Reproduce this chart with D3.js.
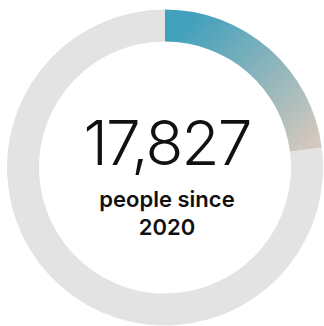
<!DOCTYPE html>
<html><head><meta charset="utf-8">
<script src="https://cdn.jsdelivr.net/npm/d3@7"></script>
<style>html,body{margin:0;padding:0;background:#fff;overflow:hidden}</style>
</head><body>
<svg id="chart" width="324" height="326"></svg>
<script>
const categories = ["reached", "remaining"];
const values = [23, 77];
const headline = ["17,827"];
const subtitle = ["people since", "2020"];
const colors = ["#41a0bb", "#d6c9bd", "#e3e3e3"];

const svg = d3.select("#chart");
const cx = 165, cy = 167.5, rOuter = 158, rInner = 126;

const defs = svg.append("defs");
const grad = defs.append("linearGradient").attr("id", "g")
  .attr("gradientUnits", "userSpaceOnUse")
  .attr("x1", 15).attr("y1", -rOuter + 20)
  .attr("x2", rOuter - 20).attr("y2", -10);
grad.append("stop").attr("offset", "0%").attr("stop-color", colors[0]);
grad.append("stop").attr("offset", "100%").attr("stop-color", colors[1]);

const g = svg.append("g").attr("transform", `translate(${cx},${cy})`);
const pie = d3.pie().sort(null).value(d => d)(values);
const arc = d3.arc().innerRadius(rInner).outerRadius(rOuter);

g.selectAll("path").data(pie).join("path")
  .attr("d", arc)
  .attr("fill", (d, i) => i === 0 ? "url(#g)" : colors[2]);

const num = g.append("text").text(headline[0])
  .attr("x", 2).attr("y", -2.5)
  .attr("text-anchor", "middle")
  .style("font-family", "Inter, Lato, sans-serif")
  .style("font-weight", 300)
  .style("font-size", "62px")
  .attr("fill", "#111");
// fit to reference width
const w = num.node().getComputedTextLength();
num.style("letter-spacing", ((167 - w) / 6) + "px");

g.selectAll("text.sub").data(subtitle).join("text").attr("class", "sub")
  .text(d => d)
  .attr("x", 2)
  .attr("y", (d, i) => 39.5 + i * 27.5)
  .attr("text-anchor", "middle")
  .style("font-family", "Inter, 'Open Sans', sans-serif")
  .style("font-weight", 600)
  .style("font-size", "22px")
  .attr("fill", "#111");
</script>
</body></html>
